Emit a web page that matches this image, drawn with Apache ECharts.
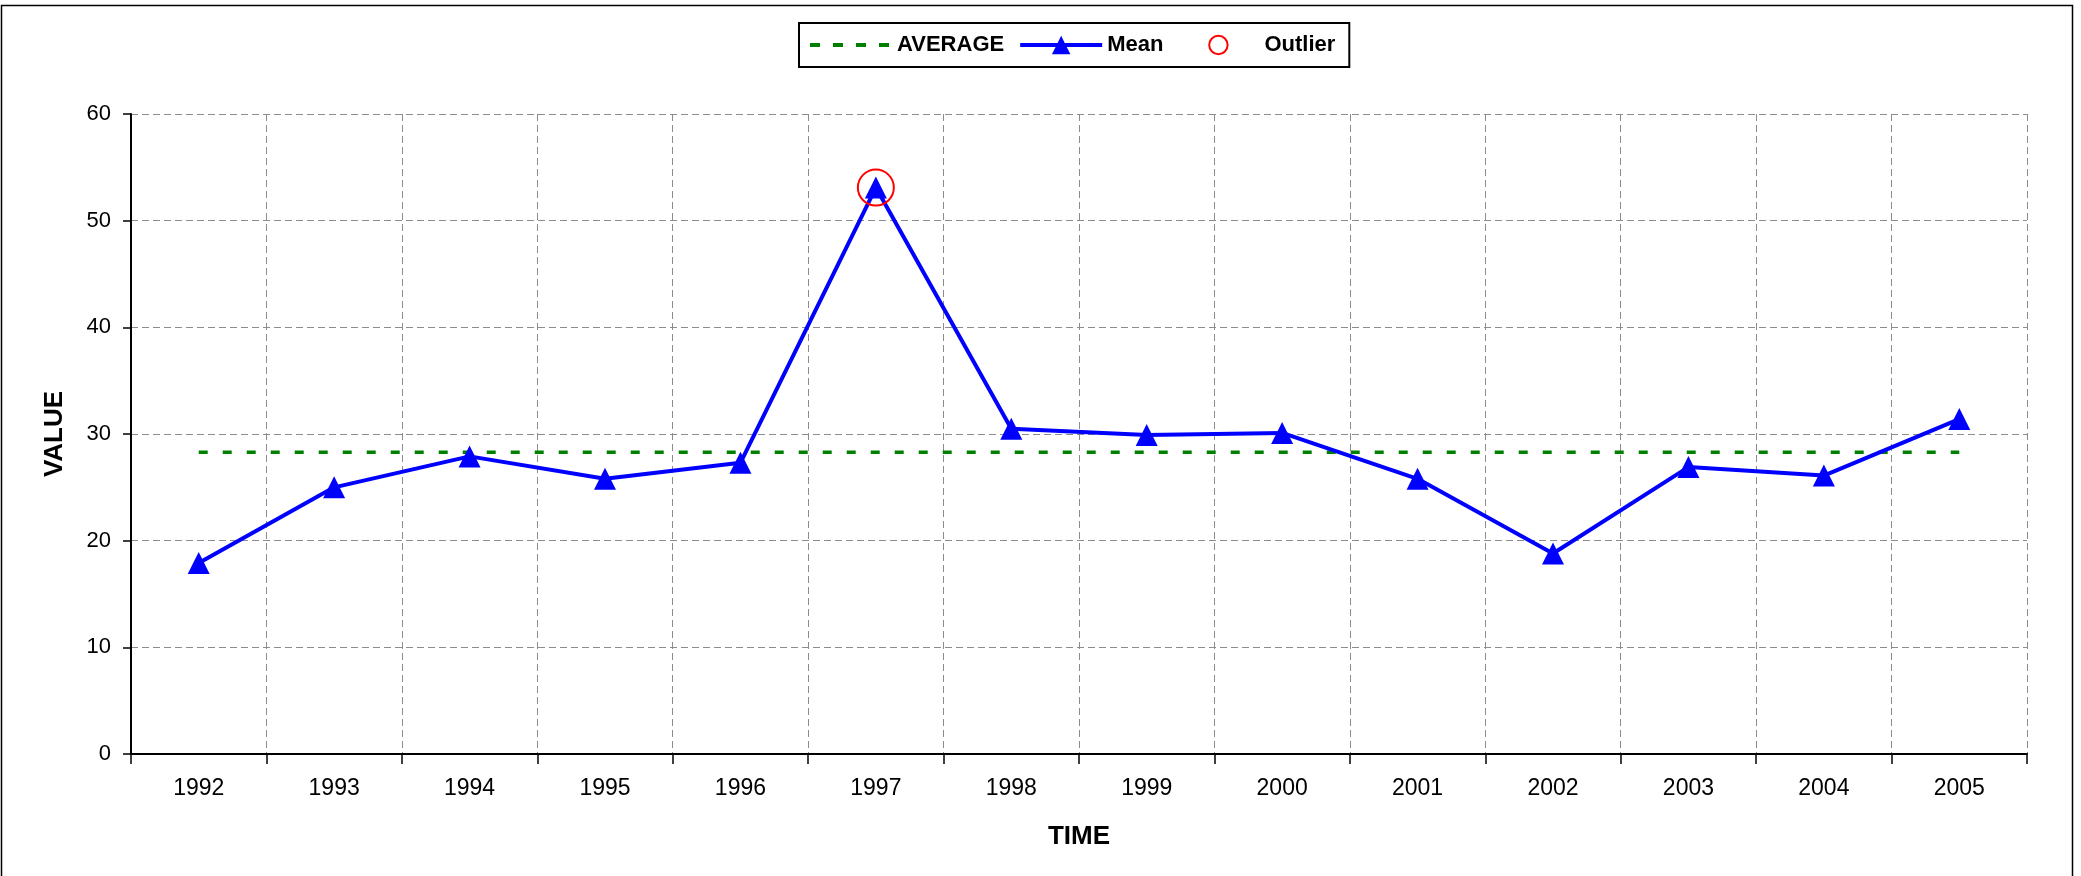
<!DOCTYPE html>
<html>
<head>
<meta charset="utf-8">
<script src="https://cdn.jsdelivr.net/npm/echarts@6/dist/echarts.min.js"></script>
<style>
  html, body { margin: 0; padding: 0; background: #fff; }
  #line { width: 2081px; height: 876px; }
</style>
</head>
<body>
<div id="line"></div>
<script>
// data
var years = ["1992", "1993", "1994", "1995", "1996", "1997", "1998",
  "1999", "2000", "2001", "2002", "2003", "2004", "2005"];
var meanValues = [17.9, 25.0, 27.9, 25.8, 27.3, 53.1, 30.5,
  29.9, 30.1, 25.8, 18.8, 26.9, 26.1, 31.4];
var averageValues = [28.3, 28.3, 28.3, 28.3, 28.3, 28.3, 28.3,
  28.3, 28.3, 28.3, 28.3, 28.3, 28.3, 28.3];
var outlierYear = "1997";
var outlierValue = 53.1;
var valueTicks = [0, 10, 20, 30, 40, 50, 60];

var font = "'Liberation Sans', Arial, sans-serif";
var gridLine = { color: "#8c8c8c", width: 1, type: [7, 4] };

var option = {
  animation: false,
  textStyle: { fontFamily: font, color: "#000" },
  graphic: [
    {
      type: "rect",
      shape: { x: 1.5, y: 5.5, width: 2071, height: 900 },
      style: { fill: "none", stroke: "#000", lineWidth: 1.5 },
      silent: true
    }
  ],
  legend: {
    left: 799,
    top: 23,
    padding: [11, 14, 11, 9],
    itemWidth: 82,
    itemHeight: 23,
    itemGap: 14,
    borderColor: "#000",
    borderWidth: 2,
    borderRadius: 0,
    textStyle: { fontFamily: font, fontSize: 22, fontWeight: "bold", color: "#000" },
    data: [
      {
        name: "AVERAGE",
        itemStyle: { opacity: 0 },
        lineStyle: { color: "#008000", width: 4, type: [10, 13] }
      },
      { name: "Mean", lineStyle: { color: "#0000ff", width: 4 } },
      {
        name: "Outlier",
        lineStyle: { opacity: 0 },
        itemStyle: { color: "transparent", borderColor: "#ff0000", borderWidth: 2 }
      }
    ]
  },
  grid: {
    left: 131,
    right: 54,
    top: 114,
    bottom: 122
  },
  xAxis: {
    type: "category",
    data: years,
    boundaryGap: true,
    name: "TIME",
    nameLocation: "middle",
    nameGap: 70,
    nameTextStyle: { fontFamily: font, fontSize: 26, fontWeight: "bold", color: "#000" },
    axisLine: { lineStyle: { color: "#000", width: 2 } },
    axisTick: { show: true, length: 10, lineStyle: { color: "#000", width: 1.5 } },
    axisLabel: { margin: 23, fontSize: 23, color: "#000", fontFamily: font },
    splitLine: { show: true, lineStyle: gridLine }
  },
  yAxis: {
    type: "value",
    min: valueTicks[0],
    max: valueTicks[valueTicks.length - 1],
    interval: 10,
    name: "VALUE",
    nameLocation: "middle",
    nameRotate: 90,
    nameGap: 63,
    nameTextStyle: { fontFamily: font, fontSize: 26, fontWeight: "bold", color: "#000" },
    axisLine: { show: true, lineStyle: { color: "#000", width: 2 } },
    axisTick: { show: true, length: 8, lineStyle: { color: "#000", width: 1.5 } },
    axisLabel: { margin: 20, fontSize: 22, color: "#000", fontFamily: font },
    splitLine: { show: true, lineStyle: gridLine }
  },
  series: [
    {
      name: "AVERAGE",
      type: "line",
      data: averageValues,
      symbol: "none",
      z: 2,
      itemStyle: { color: "#008000" },
      lineStyle: { color: "#008000", width: 3.5, type: [9, 15] }
    },
    {
      name: "Mean",
      type: "line",
      data: meanValues,
      symbol: "triangle",
      symbolSize: 22,
      showAllSymbol: true,
      z: 3,
      itemStyle: { color: "#0000ff" },
      lineStyle: { color: "#0000ff", width: 4 }
    },
    {
      name: "Outlier",
      type: "line",
      data: [[outlierYear, outlierValue]],
      symbol: "circle",
      symbolSize: 36,
      z: 4,
      itemStyle: { color: "transparent", borderColor: "#ff0000", borderWidth: 2 },
      lineStyle: { opacity: 0, width: 0 }
    }
  ]
};

var chart = echarts.init(document.getElementById("line"));
chart.setOption(option);
window.onresize = function () {
  chart.resize();
};
</script>
</body>
</html>
